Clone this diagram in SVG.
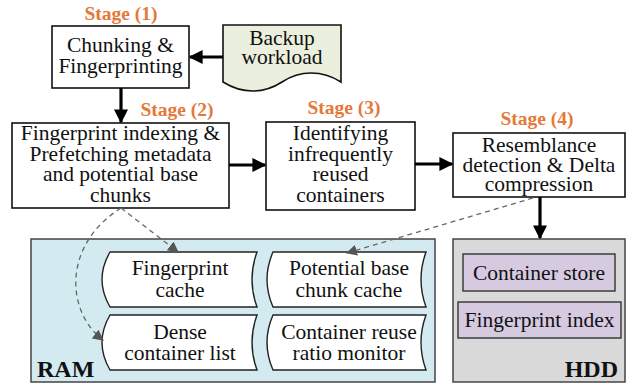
<svg xmlns="http://www.w3.org/2000/svg" width="627" height="384" viewBox="0 0 627 384">
<defs>
<style>
text{font-family:'Liberation Serif',Tinos,'Times New Roman','DejaVu Serif',serif;fill:#111;}
.t{font-size:21.5px;text-anchor:middle;}
.st{font-size:19.5px;font-weight:bold;fill:#e4793a;text-anchor:middle;}
.big{font-size:24px;font-weight:bold;}
.box{fill:#fff;stroke:#111;stroke-width:1.6;}
.store{fill:#fff;stroke:#222;stroke-width:1.4;}
.hbox{fill:#d6cae1;stroke:#333;stroke-width:1.4;}
.arr{fill:none;stroke:#000;stroke-width:3.2;marker-end:url(#ah);}
.dash{fill:none;stroke:#666;stroke-width:1.3;stroke-dasharray:5,4;marker-end:url(#gh);}
</style>
<marker id="ah" viewBox="0 0 10 10" refX="9" refY="5" markerWidth="14" markerHeight="14" markerUnits="userSpaceOnUse" orient="auto"><path d="M0,0 L10,5 L0,10 z" fill="#000"/></marker>
<marker id="gh" viewBox="0 0 10 10" refX="9" refY="5" markerWidth="11" markerHeight="11" markerUnits="userSpaceOnUse" orient="auto"><path d="M0,0 L10,5 L0,10 z" fill="#555"/></marker>
</defs>

<g font-family="Liberation Serif, Tinos, Times New Roman, DejaVu Serif, serif">
<g id="ram">
<rect x="31" y="239" width="404" height="143" fill="#d3eaf1" stroke="#444" stroke-width="1.5"/>
<text class="big" x="37" y="377">RAM</text>
</g>
<g id="hdd">
<rect x="453" y="239" width="172" height="143" fill="#d9d9d9" stroke="#444" stroke-width="1.5"/>
<text class="big" x="618" y="377" text-anchor="end">HDD</text>
</g>

<g id="stage1">
<text class="st" x="121" y="20">Stage (1)</text>
<rect class="box" x="52" y="26" width="137" height="62"/>
<text class="t" x="120.5" y="52">Chunking &amp;</text>
<text class="t" x="120.5" y="73">Fingerprinting</text>
</g>

<g id="backup">
<path d="M223,25 H341 V82 C322,70 300,70 282,82 C265,93 244,95 223,82 Z" fill="#ebf0de" stroke="#111" stroke-width="1.6"/>
<text class="t" x="282" y="45">Backup</text>
<text class="t" x="282" y="64">workload</text>
</g>

<g id="stage2">
<text class="st" x="177" y="116">Stage (2)</text>
<rect class="box" x="12" y="123" width="217" height="85"/>
<text class="t" x="120.5" y="140">Fingerprint indexing &amp;</text>
<text class="t" x="120.5" y="160.5">Prefetching metadata</text>
<text class="t" x="120.5" y="181">and potential base</text>
<text class="t" x="120.5" y="201.5">chunks</text>
</g>

<g id="stage3">
<text class="st" x="344" y="114">Stage (3)</text>
<rect class="box" x="266" y="122" width="149" height="88"/>
<text class="t" x="340.5" y="140">Identifying</text>
<text class="t" x="340.5" y="160.5">infrequently</text>
<text class="t" x="340.5" y="181">reused</text>
<text class="t" x="340.5" y="201.5">containers</text>
</g>

<g id="stage4">
<text class="st" x="537" y="125">Stage (4)</text>
<rect class="box" x="453" y="133" width="172" height="64"/>
<text class="t" x="539" y="152">Resemblance</text>
<text class="t" x="539" y="172">detection &amp; Delta</text>
<text class="t" x="539" y="191">compression</text>
</g>

<g id="fpcache">
<path class="store" d="M110,252 H257 Q247,279.5 257,307 H110 Q94,279.5 110,252 Z"/>
<text class="t" x="180" y="275">Fingerprint</text>
<text class="t" x="180" y="297">cache</text>
</g>
<g id="pbcache">
<path class="store" d="M273,252 H426 Q416,279.5 426,307 H273 Q261,279.5 273,252 Z"/>
<text class="t" x="349" y="275">Potential base</text>
<text class="t" x="349" y="297">chunk cache</text>
</g>
<g id="dense">
<path class="store" d="M110,315 H257 Q247,342.5 257,370 H110 Q94,342.5 110,315 Z"/>
<text class="t" x="180" y="339">Dense</text>
<text class="t" x="180" y="360">container list</text>
</g>
<g id="monitor">
<path class="store" d="M273,315 H426 Q416,342.5 426,370 H273 Q261,342.5 273,315 Z"/>
<text class="t" x="349" y="339">Container reuse</text>
<text class="t" x="349" y="360">ratio monitor</text>
</g>

<g id="cstore">
<rect class="hbox" x="463" y="254" width="152" height="37"/>
<text class="t" x="539" y="280">Container store</text>
</g>
<g id="fpindex">
<rect class="hbox" x="458" y="302" width="163" height="36"/>
<text class="t" x="539.5" y="327">Fingerprint index</text>
</g>
</g>

<g id="connectors">
<path class="arr" d="M223,57 H190"/>
<path class="arr" d="M121,88 V122"/>
<path class="arr" d="M229,165 H265"/>
<path class="arr" d="M415,164 H452"/>
<path class="arr" d="M540,197 V238"/>
<path class="dash" d="M121,208 L178,252"/>
<path class="dash" d="M121,208 C62,245 66,312 103,340"/>
<path class="dash" d="M533,198 L347,253"/>
</g>
</svg>
